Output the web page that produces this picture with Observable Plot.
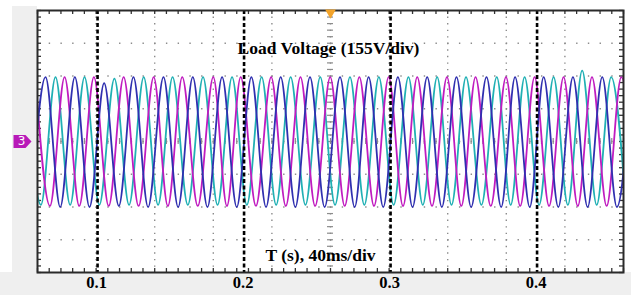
<!DOCTYPE html>
<html><head><meta charset="utf-8">
<script src="https://cdn.jsdelivr.net/npm/d3@7"></script>
<script src="https://cdn.jsdelivr.net/npm/@observablehq/plot@0.6"></script>
<style>
html,body{margin:0;padding:0;background:#fff;}
#chart{width:631px;height:295px;background:
 linear-gradient(#efefef,#efefef) 12px 6px/25px 289px no-repeat,
 linear-gradient(#efefef,#efefef) 0 272px/631px 23px no-repeat, #fff;}
#chart svg{background:transparent;display:block;}
</style></head><body><div id="chart"></div>
<script>
// ---- data ----
const tickLabels = [0.1, 0.2, 0.3, 0.4];        // x tick labels (s)
const eventTimes = [0.1, 0.2, 0.3, 0.4];        // dashed black markers (s)
const timeDomain = [0.059, 0.459];              // 10 div x 40 ms
const voltDomain = [-620, 620];                 // 8 div x 155 V

// phase "blue"
const bluePeakT   = [0.0645,0.0845,0.1045,0.1245,0.1450,0.1650,0.1850,0.2050,0.2250,0.2450,0.2655,0.2850,0.3050,0.3250,0.3450,0.3655,0.3850,0.4045,0.4245,0.4445,0.4645];
const bluePeakV   = [305,305,276,305,305,305,305,305,305,305,305,305,305,305,305,305,305,305,305,305,305];
const blueTroughT = [0.0545,0.0745,0.0945,0.1145,0.1345,0.1550,0.1750,0.1950,0.2150,0.2350,0.2550,0.2755,0.2950,0.3150,0.3350,0.3550,0.3755,0.3950,0.4145,0.4345,0.4545];
const blueTroughV = [-310,-310,-310,-305,-310,-310,-310,-310,-310,-310,-310,-310,-310,-310,-310,-310,-310,-310,-310,-310,-310];
// phase "teal"
const tealPeakT   = [0.0513,0.0713,0.0911,0.1115,0.1315,0.1512,0.1720,0.1918,0.2120,0.2318,0.2520,0.2723,0.2920,0.3122,0.3318,0.3515,0.3725,0.3915,0.4113,0.4308,0.4506];
const tealPeakV   = [305,305,305,298,305,305,305,305,305,305,305,305,305,305,305,305,305,305,305,335,305];
const tealTroughT = [0.0613,0.0813,0.1012,0.1215,0.1413,0.1616,0.1819,0.2019,0.2219,0.2419,0.2621,0.2821,0.3021,0.3220,0.3416,0.3620,0.3820,0.4014,0.4210,0.4407,0.4606];
const tealTroughV = [-300,-300,-300,-300,-300,-300,-300,-300,-300,-300,-300,-300,-300,-300,-300,-300,-300,-300,-300,-300,-300];
// phase "magenta"
const magPeakT    = [0.0575,0.0775,0.0975,0.1178,0.1383,0.1578,0.1790,0.1977,0.2185,0.2385,0.2588,0.2787,0.2987,0.3182,0.3385,0.3580,0.3788,0.3983,0.4181,0.4375,0.4575];
const magPeakV    = [305,305,305,305,305,305,305,305,305,305,305,305,305,305,305,305,305,305,305,305,305];
const magTroughT  = [0.0675,0.0875,0.1076,0.1280,0.1480,0.1684,0.1883,0.2081,0.2285,0.2485,0.2687,0.2887,0.3085,0.3283,0.3483,0.3684,0.3885,0.4082,0.4278,0.4475,0.4675];
const magTroughV  = [-305,-305,-305,-305,-305,-305,-305,-305,-305,-305,-305,-305,-305,-305,-305,-305,-305,-305,-305,-305,-305];

const titleText = "Load Voltage (155V/div)";
const xTitleText = "T (s), 40ms/div";
const channelLabel = "3";

// ---- build tables ----
function phase(peakT, peakV, troughT, troughV) {
  return peakT.map((t, i) => ({t, v: peakV[i]}))
    .concat(troughT.map((t, i) => ({t, v: troughV[i]})))
    .sort((a, b) => a.t - b.t);
}
const blue = phase(bluePeakT, bluePeakV, blueTroughT, blueTroughV);
const teal = phase(tealPeakT, tealPeakV, tealTroughT, tealTroughV);
const mag  = phase(magPeakT, magPeakV, magTroughT, magTroughV);

// scope graticule derived from the domains
const W = 631, H = 295, mL = 37, mR = 8, mT = 10, mB = 23;
const FW = W - mL - mR, FH = H - mT - mB;
const divT = (timeDomain[1] - timeDomain[0]) / 10;
const divV = (voltDomain[1] - voltDomain[0]) / 8;
const gridX = d3.range(1, 10).map(k => timeDomain[0] + k * divT);
const gridY = d3.range(-3, 4).map(k => k * divV);
const minorX = d3.range(0, 51).map(k => timeDomain[0] + k * divT / 5);
const minorY = d3.range(-20, 21).map(k => k * divV / 5);
const centerT = timeDomain[0] + 5 * divT;

const serif = "Liberation Serif, Times New Roman, serif";
const gridStroke = "#8c8c8c";

const arrowSymbol = {draw(ctx) { ctx.moveTo(-11,-6.5); ctx.lineTo(1,-6.5); ctx.lineTo(7,0); ctx.lineTo(1,6.5); ctx.lineTo(-11,6.5); ctx.closePath(); }};

const chart = Plot.plot({
  width: W, height: H,
  marginLeft: mL, marginRight: mR, marginTop: mT, marginBottom: mB,
  x: {domain: timeDomain},
  y: {domain: voltDomain, axis: null},
  style: {background: "transparent", overflow: "visible"},
  marks: [
    Plot.frame({fill: "white", stroke: "none"}),
    // dotted graticule
    Plot.ruleX(gridX, {stroke: gridStroke, strokeWidth: 1.4, strokeDasharray: "1.4 5.15"}),
    Plot.ruleY(gridY, {stroke: gridStroke, strokeWidth: 1.4, strokeDasharray: "1.4 10.32"}),
    // center crosshair minor ticks
    Plot.ruleY(minorY, {stroke: gridStroke, strokeWidth: 1.2, insetLeft: FW / 2 - 3, insetRight: FW / 2 - 3}),
    Plot.ruleX(minorX, {stroke: gridStroke, strokeWidth: 1.2, insetTop: FH / 2 - 3, insetBottom: FH / 2 - 3}),
    // frame-edge minor ticks
    Plot.ruleX(minorX, {stroke: "#333", strokeWidth: 1.3, insetTop: FH - 4}),
    Plot.ruleX(minorX, {stroke: "#333", strokeWidth: 1.3, insetBottom: FH - 4}),
    Plot.ruleY(minorY, {stroke: "#333", strokeWidth: 1.3, insetRight: FW - 4}),
    Plot.ruleY(minorY, {stroke: "#333", strokeWidth: 1.3, insetLeft: FW - 4}),
    // three phase voltages
    Plot.line(teal, {x: "t", y: "v", stroke: "#20b0b4", strokeWidth: 1.8, curve: "monotone-x", clip: true}),
    Plot.line(mag,  {x: "t", y: "v", stroke: "#c01cc0", strokeWidth: 1.8, curve: "monotone-x", clip: true}),
    Plot.line(blue, {x: "t", y: "v", stroke: "#3030b0", strokeWidth: 1.8, curve: "monotone-x", clip: true}),
    // dashed event markers
    Plot.ruleX(eventTimes, {stroke: "black", strokeWidth: 2.6, strokeDasharray: "4 2.5"}),
    Plot.frame({stroke: "#2a2a2a", strokeWidth: 2}),
    // titles inside the screen
    Plot.text([titleText], {text: d => d, frameAnchor: "top", dy: 31, dx: -2, fontSize: 17.5, fontWeight: "bold", fontFamily: serif, fill: "black"}),
    Plot.text([xTitleText], {text: d => d, frameAnchor: "bottom", dy: -12, dx: -10, fontSize: 17.5, fontWeight: "bold", fontFamily: serif, fill: "black"}),
    // x tick labels
    Plot.axisX(tickLabels, {anchor: "bottom", tickSize: 0, tickPadding: 4, dx: -1, fontSize: 16.5, fontWeight: "bold", fontFamily: serif, color: "black", tickFormat: d => d.toFixed(1), label: null}),
    // trigger marker and channel marker
    Plot.dot([centerT], {x: d => d, frameAnchor: "top", symbol: "triangle", rotate: 180, r: 4, dy: 2, fill: "#f2a32a", stroke: "none"}),
    Plot.dot([0], {y: d => d, frameAnchor: "left", symbol: arrowSymbol, dx: -13, fill: "#b81ab8", stroke: "none"}),
    Plot.text([channelLabel], {text: d => d, y: () => 0, frameAnchor: "left", textAnchor: "middle", dx: -16, fontSize: 12, fill: "white", fontFamily: "DejaVu Sans, sans-serif"})
  ]
});
document.getElementById("chart").appendChild(chart);
</script></body></html>
